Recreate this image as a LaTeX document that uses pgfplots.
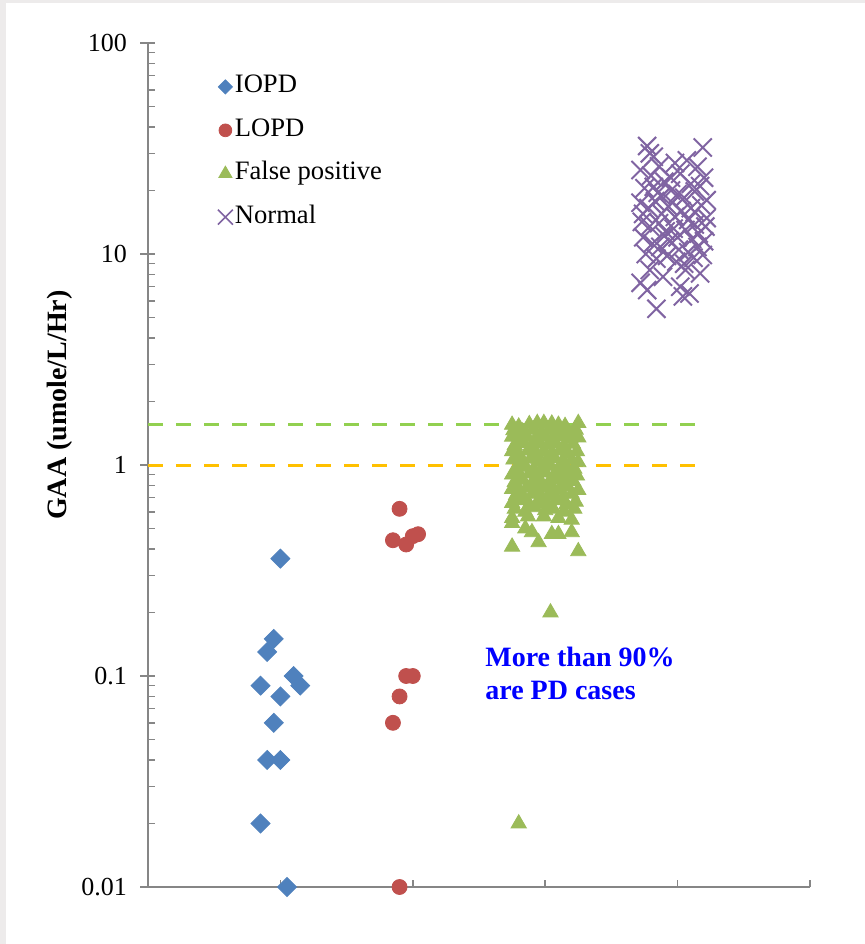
\documentclass[border=0pt]{standalone}
\usepackage{fontspec}
\setmainfont{Liberation Serif}
\usepackage{pgfplots}
\pgfplotsset{compat=1.18}
\definecolor{iopd}{RGB}{79,129,189}
\definecolor{lopd}{RGB}{192,80,77}
\definecolor{fpos}{RGB}{155,187,89}
\definecolor{normc}{RGB}{128,100,162}
\definecolor{axgray}{RGB}{134,134,134}
\definecolor{lgreen}{RGB}{146,208,80}
\definecolor{gold}{RGB}{255,192,0}
\definecolor{bgray}{RGB}{237,235,235}
\definecolor{annblue}{RGB}{0,0,255}
\begin{document}
\begin{tikzpicture}
\path[use as bounding box] (0,0) rectangle (432.5pt,472pt);
\fill[bgray] (0,0) rectangle (432.5pt,472pt);
\fill[white] (3pt,0) rectangle (432.5pt,470.5pt);
\begin{axis}[
  at={(74pt,28.5pt)}, anchor=south west,
  scale only axis, width=331pt, height=422pt,
  xmin=0, xmax=5, ymode=log, ymin=0.01, ymax=100,
  clip=false,
  axis x line*=bottom, axis y line*=left,
  axis line style={axgray, line width=0.75pt},
  every tick/.style={axgray, line width=0.75pt},
  xtick={1,2,3,4,5}, xticklabels={},
  ytick={0.01,0.1,1,10,100}, yticklabels={0.01,0.1,1,10,100},
  minor ytick={0.02,0.03,0.04,0.05,0.06,0.07,0.08,0.09,0.2,0.3,0.4,0.5,0.6,0.7,0.8,0.9,2,3,4,5,6,7,8,9,20,30,40,50,60,70,80,90},
  tick align=inside,
  major tick length=3.75pt, minor tick length=3.5pt,
  extra y ticks={0.01,0.1,1,10,100}, extra y tick labels={},
  extra y tick style={tick align=outside},
  yticklabel style={font=\fontsize{13}{15}\selectfont, xshift=-7pt},
  ylabel={GAA (umole/L/Hr)},
  ylabel style={font=\bfseries\fontsize{14}{16}\selectfont, at={(axis description cs:-0.134,0.571)}, anchor=center},
  legend style={at={(axis description cs:0.105,0.965)}, anchor=north west, draw=none, fill=none, inner sep=0pt, row sep=7.7pt, font=\fontsize{13.3}{15}\selectfont, nodes={inner sep=1pt, text height=9pt, text depth=3pt}},
  legend cell align=left,
  legend image code/.code={\draw[#1] plot coordinates {(0pt,0pt)};},
]
\addlegendimage{only marks, mark=square*, mark size=2.5pt, mark options={rotate=45, draw=iopd, fill=iopd}}
\addlegendentry{IOPD}
\addlegendimage{only marks, mark=*, mark size=3.2pt, mark options={draw=lopd, fill=lopd}}
\addlegendentry{LOPD}
\addlegendimage{only marks, mark=triangle*, mark size=3.8pt, mark options={draw=fpos, fill=fpos}}
\addlegendentry{False positive}
\addlegendimage{only marks, mark=x, mark size=5.3pt, mark options={draw=normc, line width=0.75pt}}
\addlegendentry{Normal}

% IOPD
\addplot[forget plot, only marks, mark=square*, mark size=3.36pt, mark options={rotate=45, draw=iopd, fill=iopd}] coordinates {
(1.00,0.36) (0.95,0.15) (0.90,0.13) (1.10,0.10) (0.85,0.09) (1.15,0.09)
(1.00,0.08) (0.95,0.06) (0.90,0.04) (1.00,0.04) (0.85,0.02) (1.05,0.01)
};
% LOPD
\addplot[forget plot, only marks, mark=*, mark size=3.75pt, mark options={draw=lopd, fill=lopd}] coordinates {
(1.90,0.62) (1.85,0.44) (1.95,0.42) (2.00,0.46) (2.04,0.47)
(1.95,0.10) (2.00,0.10) (1.90,0.08) (1.85,0.06) (1.90,0.01)
};
% False positive
\addplot[forget plot, only marks, mark=triangle*, mark size=4.4pt, mark options={draw=fpos, fill=fpos}] coordinates {
(2.75,1.55) (2.80,1.52) (2.88,1.56) (2.94,1.58) (2.99,1.58) (3.05,1.57) (3.10,1.55) (3.15,1.53) (3.25,1.58)
(2.76,1.46) (2.83,1.44) (2.91,1.47) (2.97,1.43) (3.03,1.46) (3.09,1.45) (3.17,1.44) (3.23,1.47)
(2.75,1.36) (2.81,1.33) (2.86,1.37) (2.93,1.34) (3.00,1.36) (3.06,1.32) (3.13,1.37) (3.19,1.34) (3.25,1.35)
(2.77,1.24) (2.84,1.27) (2.90,1.23) (2.96,1.26) (3.02,1.24) (3.08,1.27) (3.14,1.23) (3.21,1.26)
(2.75,1.16) (2.80,1.13) (2.87,1.17) (2.93,1.14) (2.99,1.16) (3.05,1.13) (3.11,1.17) (3.17,1.14) (3.24,1.16)
(2.76,1.06) (2.82,1.04) (2.89,1.07) (2.95,1.03) (3.01,1.05) (3.07,1.08) (3.13,1.04) (3.20,1.06) (3.25,1.03)
(2.78,0.96) (2.85,0.98) (2.91,0.95) (2.98,0.97) (3.04,0.99) (3.10,0.95) (3.16,0.98) (3.22,0.96)
(2.75,0.90) (2.81,0.88) (2.88,0.91) (2.94,0.89) (3.00,0.92) (3.06,0.88) (3.12,0.90) (3.18,0.91) (3.24,0.89)
(2.77,0.83) (2.83,0.85) (2.90,0.82) (2.96,0.84) (3.03,0.83) (3.09,0.85) (3.15,0.82) (3.21,0.84)
(2.75,0.77) (2.80,0.75) (2.86,0.78) (2.92,0.76) (2.99,0.78) (3.05,0.75) (3.11,0.77) (3.17,0.79) (3.25,0.76)
(2.78,0.72) (2.84,0.70) (2.91,0.73) (2.97,0.71) (3.03,0.72) (3.13,0.70) (3.20,0.73)
(2.75,0.66) (2.82,0.68) (2.88,0.65) (2.95,0.67) (3.01,0.66) (3.08,0.68) (3.16,0.65) (3.23,0.67)
(2.77,0.62) (2.85,0.60) (2.92,0.63) (3.00,0.61) (3.06,0.62) (3.14,0.60) (3.22,0.62)
(2.75,0.56) (2.87,0.57) (2.99,0.57) (3.10,0.56) (3.20,0.55) (2.75,0.53) (2.85,0.50) (2.90,0.48)
(3.05,0.47) (3.10,0.47) (3.20,0.48) (2.95,0.43) (2.75,0.41) (3.25,0.39) (3.04,0.20) (2.80,0.02)
};
% Normal
\addplot[forget plot, only marks, mark=x, mark size=6.4pt, mark options={draw=normc, line width=1pt}] coordinates {
(3.77,32.5) (4.19,32) (3.82,28.9) (4.07,27.8) (3.98,27) (4.15,25.9) (3.72,25) (3.80,23.5)
(3.90,22) (4.02,24) (4.10,21.5) (4.20,23) (3.75,20.5) (3.85,19.5) (3.95,20) (4.05,18.5)
(4.13,19.8) (4.22,18) (3.72,17.5) (3.78,16.5) (3.83,17.8) (3.88,15.5) (3.93,16.8) (3.98,15)
(4.03,16) (4.08,14.5) (4.13,15.8) (4.18,17) (4.22,14.8) (3.73,14.2) (3.79,13.5) (3.86,14)
(3.91,12.8) (3.97,13.2) (4.00,12) (4.06,13) (4.11,11.8) (4.16,12.5) (4.21,13.5) (3.74,12)
(3.81,11.2) (3.87,10.8) (3.94,11.5) (4.01,10.5) (4.08,10.2) (4.15,10.8) (4.20,11.5) (3.76,10)
(3.84,9.5) (3.92,9.8) (3.99,9.2) (4.05,9.0) (4.12,9.6) (4.19,9.9) (3.79,8.4) (4.06,8.4)
(4.17,8.1) (3.89,7.8) (3.72,7.3) (4.02,7.0) (3.77,6.75) (4.09,6.5) (3.84,5.5) (4.04,6.3)
(3.88,18.8) (3.96,17.5) (4.10,16.5) (3.74,15.5) (3.82,20.8) (3.95,23.0) (4.17,21) (3.86,26)
(3.79,30) (4.00,19.2) (3.90,12.2) (4.13,13.8)
};
% threshold lines
\addplot[forget plot, lgreen, line width=1.5pt, dash pattern=on 7.5pt off 6.5pt] coordinates {(0,1.55) (4.15,1.55)};
\addplot[forget plot, gold, line width=1.5pt, dash pattern=on 7.5pt off 6.5pt] coordinates {(0,1) (4.15,1)};
\node[anchor=north west, inner sep=0pt, align=left, font=\bfseries\fontsize{14}{16.5}\selectfont, text=annblue] at (axis cs:2.545,0.137) {More than 90\%\\are PD cases};
\end{axis}
\end{tikzpicture}
\end{document}
